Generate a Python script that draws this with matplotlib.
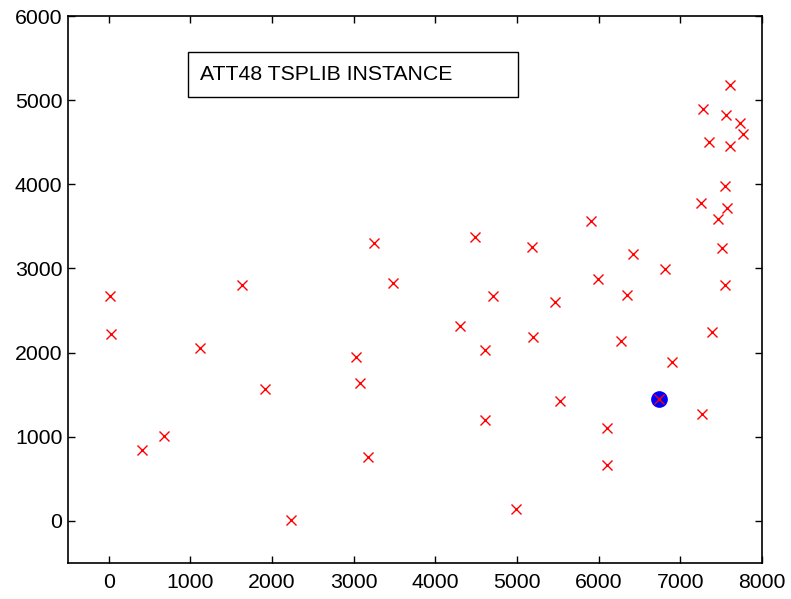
import matplotlib
matplotlib.use("Agg")
import matplotlib.pyplot as plt
from matplotlib.patches import Rectangle

plt.rcParams['font.family'] = ['Liberation Sans', 'DejaVu Sans']

xs = [6734, 2233, 5530, 401, 3082, 7608, 7573, 7265, 6898, 1112, 5468, 5989, 4706, 4612,
      6347, 6107, 7611, 7462, 7732, 5900, 4483, 6101, 5199, 1633, 4307, 675, 7555, 7541,
      3177, 7352, 7545, 3245, 6426, 4608, 23, 7248, 7762, 7392, 3484, 6271, 4985, 1916,
      7280, 7509, 10, 6807, 5185, 3023]
ys = [1453, 10, 1424, 841, 1644, 4458, 3716, 1268, 1885, 2049, 2606, 2873, 2674, 2035,
      2683, 669, 5184, 3590, 4723, 3561, 3369, 1110, 2182, 2809, 2322, 1006, 4819, 3981,
      756, 4506, 2801, 3305, 3173, 1198, 2216, 3779, 4595, 2244, 2829, 2135, 140, 1569,
      4899, 3239, 2676, 2993, 3258, 1942]
start_x = [6734]
start_y = [1453]
xticks = [0, 1000, 2000, 3000, 4000, 5000, 6000, 7000, 8000]
yticks = [0, 1000, 2000, 3000, 4000, 5000, 6000]
title_text = "ATT48 TSPLIB INSTANCE"

fig = plt.figure(figsize=(7.91, 5.99), dpi=100)
ax = fig.add_axes([68/791, 1-563/599, (762-68)/791, (563-16)/599])
ax.plot(start_x, start_y, 'o', color='blue', markersize=11, zorder=2)
ax.plot(xs, ys, 'x', color='red', markersize=7.5, markeredgewidth=1.0, zorder=3)
ax.set_xlim(-500, 8000)
ax.set_ylim(-500, 6000)
ax.set_xticks(xticks)
ax.set_yticks(yticks)
ax.tick_params(direction='in', top=True, right=True, length=5, width=1, labelsize=15.3)
ax.tick_params(axis='y', pad=4)
ax.tick_params(axis='x', pad=7)
for s in ax.spines.values():
    s.set_linewidth(1.2)

# text box
bx0, bx1 = (188-68)/694, (518-68)/694
by0, by1 = (563-97)/547, (563-52)/547
ax.add_patch(Rectangle((bx0, by0), bx1-bx0, by1-by0, transform=ax.transAxes,
                       fill=False, edgecolor='black', linewidth=1.0))
ax.text((200-68)/694, (by0+by1)/2, title_text, transform=ax.transAxes,
        fontsize=15.3, va='center', ha='left')

fig.savefig('out.png', dpi=100)
